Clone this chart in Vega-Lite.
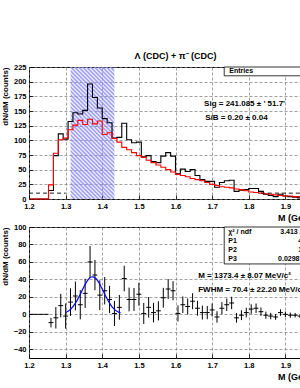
{
  "$schema": "https://vega.github.io/schema/vega-lite/v6.json",
  "padding": {"left": 0, "top": 51, "right": 0, "bottom": 0},
  "bounds": "flush",
  "spacing": 28,
  "config": {
    "view": {"stroke": "#000", "strokeWidth": 1},
    "font": "Liberation Sans",
    "axis": {
      "domain": false, "labelFont": "Liberation Sans", "labelFontWeight": "bold", "labelFontSize": 7.5, "labelColor": "#000",
      "titleFont": "Liberation Sans", "titleFontWeight": "bold", "titleFontSize": 8, "titleColor": "#000",
      "tickSize": -4, "tickColor": "#000", "tickWidth": 0.8, "labelPadding": 7,
      "grid": true, "gridColor": "#777777", "gridOpacity": 1, "gridDash": [3, 2], "gridWidth": 0.7, "titleAnchor": "end",
      "labelFlush": false, "labelOverlap": false
    },
    "axisX": {"titlePadding": 4, "titleFontSize": 9},
    "axisY": {"titlePadding": 4, "titleFontSize": 8}
  },
  "datasets": {
    "hist": [
      {"lo":1.2,"hi":1.2133,"m":1.2067,"bkg":0,"tot":0,"sig":0,"err":0},
      {"lo":1.2133,"hi":1.2267,"m":1.22,"bkg":0,"tot":0,"sig":0,"err":0},
      {"lo":1.2267,"hi":1.24,"m":1.2333,"bkg":0,"tot":0,"sig":0,"err":0},
      {"lo":1.24,"hi":1.2533,"m":1.2467,"bkg":0,"tot":0,"sig":0,"err":0},
      {"lo":1.2533,"hi":1.2667,"m":1.26,"bkg":24,"tot":14.5,"sig":-9.5,"err":5.5},
      {"lo":1.2667,"hi":1.28,"m":1.2733,"bkg":78,"tot":74,"sig":-4,"err":12.3},
      {"lo":1.28,"hi":1.2933,"m":1.2867,"bkg":101,"tot":111,"sig":10,"err":13.5},
      {"lo":1.2933,"hi":1.3067,"m":1.3,"bkg":104,"tot":102,"sig":-2,"err":14.4},
      {"lo":1.3067,"hi":1.32,"m":1.3133,"bkg":118,"tot":132,"sig":14,"err":15.8},
      {"lo":1.32,"hi":1.3333,"m":1.3267,"bkg":126,"tot":147,"sig":21,"err":16.5},
      {"lo":1.3333,"hi":1.3467,"m":1.34,"bkg":134,"tot":145,"sig":11,"err":16.7},
      {"lo":1.3467,"hi":1.36,"m":1.3533,"bkg":127,"tot":151,"sig":24,"err":16.7},
      {"lo":1.36,"hi":1.3733,"m":1.3667,"bkg":136,"tot":196,"sig":60,"err":18.2},
      {"lo":1.3733,"hi":1.3867,"m":1.38,"bkg":128,"tot":173,"sig":45,"err":17.3},
      {"lo":1.3867,"hi":1.4,"m":1.3933,"bkg":133,"tot":155,"sig":22,"err":17},
      {"lo":1.4,"hi":1.4133,"m":1.4067,"bkg":110,"tot":137,"sig":27,"err":15.7},
      {"lo":1.4133,"hi":1.4267,"m":1.42,"bkg":113,"tot":130,"sig":17,"err":15.6},
      {"lo":1.4267,"hi":1.44,"m":1.4333,"bkg":103,"tot":104,"sig":1,"err":14.4},
      {"lo":1.44,"hi":1.4533,"m":1.4467,"bkg":97,"tot":105,"sig":8,"err":14.2},
      {"lo":1.4533,"hi":1.4667,"m":1.46,"bkg":88,"tot":129,"sig":41,"err":14.7},
      {"lo":1.4667,"hi":1.48,"m":1.4733,"bkg":84,"tot":101,"sig":17,"err":13.6},
      {"lo":1.48,"hi":1.4933,"m":1.4867,"bkg":79,"tot":96,"sig":17,"err":13.2},
      {"lo":1.4933,"hi":1.5067,"m":1.5,"bkg":74,"tot":97,"sig":23,"err":13.1},
      {"lo":1.5067,"hi":1.52,"m":1.5133,"bkg":71,"tot":72,"sig":1,"err":12},
      {"lo":1.52,"hi":1.5333,"m":1.5267,"bkg":66,"tot":74,"sig":8,"err":11.8},
      {"lo":1.5333,"hi":1.5467,"m":1.54,"bkg":62,"tot":64,"sig":2,"err":11.2},
      {"lo":1.5467,"hi":1.56,"m":1.5533,"bkg":58,"tot":62,"sig":4,"err":11},
      {"lo":1.56,"hi":1.5733,"m":1.5667,"bkg":54,"tot":73,"sig":19,"err":11.3},
      {"lo":1.5733,"hi":1.5867,"m":1.58,"bkg":50,"tot":79,"sig":29,"err":11.4},
      {"lo":1.5867,"hi":1.6,"m":1.5933,"bkg":46,"tot":73,"sig":27,"err":10.9},
      {"lo":1.6,"hi":1.6133,"m":1.6067,"bkg":42,"tot":43,"sig":1,"err":9.2},
      {"lo":1.6133,"hi":1.6267,"m":1.62,"bkg":40,"tot":51,"sig":11,"err":9.5},
      {"lo":1.6267,"hi":1.64,"m":1.6333,"bkg":38,"tot":47,"sig":9,"err":9.2},
      {"lo":1.64,"hi":1.6533,"m":1.6467,"bkg":35,"tot":50,"sig":15,"err":9.2},
      {"lo":1.6533,"hi":1.6667,"m":1.66,"bkg":33,"tot":40,"sig":7,"err":8.5},
      {"lo":1.6667,"hi":1.68,"m":1.6733,"bkg":31,"tot":33,"sig":2,"err":8},
      {"lo":1.68,"hi":1.6933,"m":1.6867,"bkg":28,"tot":30,"sig":2,"err":7.6},
      {"lo":1.6933,"hi":1.7067,"m":1.7,"bkg":25,"tot":30,"sig":5,"err":7.4},
      {"lo":1.7067,"hi":1.72,"m":1.7133,"bkg":23,"tot":20,"sig":-3,"err":6.6},
      {"lo":1.72,"hi":1.7333,"m":1.7267,"bkg":21,"tot":28,"sig":7,"err":7},
      {"lo":1.7333,"hi":1.7467,"m":1.74,"bkg":20,"tot":31,"sig":11,"err":7.1},
      {"lo":1.7467,"hi":1.76,"m":1.7533,"bkg":19,"tot":32,"sig":13,"err":7.1},
      {"lo":1.76,"hi":1.7733,"m":1.7667,"bkg":17,"tot":13,"sig":-4,"err":5.5},
      {"lo":1.7733,"hi":1.7867,"m":1.78,"bkg":16,"tot":15,"sig":-1,"err":5.6},
      {"lo":1.7867,"hi":1.8,"m":1.7933,"bkg":14,"tot":16,"sig":2,"err":5.5},
      {"lo":1.8,"hi":1.8133,"m":1.8067,"bkg":12,"tot":18,"sig":6,"err":5.5},
      {"lo":1.8133,"hi":1.8267,"m":1.82,"bkg":11,"tot":18,"sig":7,"err":5.4},
      {"lo":1.8267,"hi":1.84,"m":1.8333,"bkg":10,"tot":13,"sig":3,"err":4.8},
      {"lo":1.84,"hi":1.8533,"m":1.8467,"bkg":9,"tot":8,"sig":-1,"err":4.1},
      {"lo":1.8533,"hi":1.8667,"m":1.86,"bkg":8,"tot":6,"sig":-2,"err":3.7},
      {"lo":1.8667,"hi":1.88,"m":1.8733,"bkg":7,"tot":4,"sig":-3,"err":3.3},
      {"lo":1.88,"hi":1.8933,"m":1.8867,"bkg":6,"tot":8,"sig":2,"err":3.7},
      {"lo":1.8933,"hi":1.9067,"m":1.9,"bkg":5,"tot":5,"sig":0,"err":3.2},
      {"lo":1.9067,"hi":1.92,"m":1.9133,"bkg":5,"tot":4,"sig":-1,"err":3},
      {"lo":1.92,"hi":1.9333,"m":1.9267,"bkg":4,"tot":3,"sig":-1,"err":2.6},
      {"lo":1.9333,"hi":1.9467,"m":1.94,"bkg":4,"tot":2,"sig":-2,"err":2.4},
      {"lo":1.9467,"hi":1.96,"m":1.9533,"bkg":3,"tot":4,"sig":1,"err":2.6},
      {"lo":1.96,"hi":1.9733,"m":1.9667,"bkg":3,"tot":3,"sig":0,"err":2.4},
      {"lo":1.9733,"hi":1.9867,"m":1.98,"bkg":3,"tot":2,"sig":-1,"err":2.2},
      {"lo":1.9867,"hi":2.0,"m":1.9933,"bkg":2,"tot":3,"sig":1,"err":2.2}
    ],
    "gauss": [
      {"m":1.3,"f":2.11},{"m":1.305,"f":3.14},{"m":1.31,"f":4.54},{"m":1.315,"f":6.38},{"m":1.32,"f":8.72},
      {"m":1.325,"f":11.6},{"m":1.33,"f":14.99},{"m":1.335,"f":18.84},{"m":1.34,"f":23.03},{"m":1.345,"f":27.39},
      {"m":1.35,"f":31.66},{"m":1.355,"f":35.58},{"m":1.36,"f":38.89},{"m":1.365,"f":41.34},{"m":1.37,"f":42.72},
      {"m":1.375,"f":42.94},{"m":1.38,"f":41.96},{"m":1.385,"f":39.88},{"m":1.39,"f":36.86},{"m":1.395,"f":33.12},
      {"m":1.4,"f":28.95},{"m":1.405,"f":24.6},{"m":1.41,"f":20.33},{"m":1.415,"f":16.33},{"m":1.42,"f":12.76},
      {"m":1.425,"f":9.7},{"m":1.43,"f":7.17},{"m":1.435,"f":5.15},{"m":1.44,"f":3.6},{"m":1.445,"f":2.45},{"m":1.45,"f":1.61}
    ],
    "band": [{"a": 1.3136, "b": 1.4332}],
    "side": [{"a": 1.2, "b": 1.3, "y": 10}, {"a": 1.833, "b": 2.0, "y": 10}],
    "topText": [
      {"m": 1.678, "y": 162, "t": "Sig = 241.085 ± ' 51.7'"},
      {"m": 1.681, "y": 138, "t": "S/B = 0.20 ± 0.04"}
    ],
    "topBox": [{"a": 1.733, "b": 2.0, "y0": 210, "y1": 225}],
    "topBoxText": [{"m": 1.747, "y": 217.5, "t": "Entries"}],
    "botBox": [{"a": 1.733, "b": 2.0, "y0": 57.7, "y1": 100}],
    "botBoxText": [
      {"m": 1.744, "y": 94.3, "t": "χ² / ndf"},
      {"m": 1.886, "y": 94.3, "t": "3.413 / 5"},
      {"m": 1.744, "y": 84, "t": "P1"},
      {"m": 1.935, "y": 84, "t": "42.93 ± 12.9"},
      {"m": 1.744, "y": 73.7, "t": "P2"},
      {"m": 1.935, "y": 73.7, "t": "1.373 ± 0.008"},
      {"m": 1.744, "y": 63.4, "t": "P3"},
      {"m": 1.88, "y": 63.4, "t": "0.02987 ± 0.0094"}
    ],
    "botText": [
      {"m": 1.662, "y": 43.4, "t": "M = 1373.4 ± 8.07 MeV/c²"},
      {"m": 1.662, "y": 27.4, "t": "FWHM =   70.4 ± 22.20 MeV/c²"}
    ]
  },
  "vconcat": [
    {
      "width": 293,
      "height": 132,
      "title": {"text": "Λ (CDC) + π⁻ (CDC)", "font": "Liberation Sans", "fontSize": 9, "fontWeight": "bold", "anchor": "middle", "offset": 2, "color": "#000"},
      "layer": [
        {
          "data": {"name": "band"},
          "mark": {"type": "rect", "color": {"gradient": "linear", "x1": 0, "y1": 1, "x2": 0.4, "y2": -0.2, "stops": [
            {"offset":0,"color":"#8a8af6"},{"offset":0.0114,"color":"rgba(138,138,246,0)"},
            {"offset":0.0227,"color":"#8a8af6"},{"offset":0.0341,"color":"rgba(138,138,246,0)"},
            {"offset":0.0455,"color":"#8a8af6"},{"offset":0.0568,"color":"rgba(138,138,246,0)"},
            {"offset":0.0682,"color":"#8a8af6"},{"offset":0.0795,"color":"rgba(138,138,246,0)"},
            {"offset":0.0909,"color":"#8a8af6"},{"offset":0.1023,"color":"rgba(138,138,246,0)"},
            {"offset":0.1136,"color":"#8a8af6"},{"offset":0.125,"color":"rgba(138,138,246,0)"},
            {"offset":0.1364,"color":"#8a8af6"},{"offset":0.1477,"color":"rgba(138,138,246,0)"},
            {"offset":0.1591,"color":"#8a8af6"},{"offset":0.1705,"color":"rgba(138,138,246,0)"},
            {"offset":0.1818,"color":"#8a8af6"},{"offset":0.1932,"color":"rgba(138,138,246,0)"},
            {"offset":0.2045,"color":"#8a8af6"},{"offset":0.2159,"color":"rgba(138,138,246,0)"},
            {"offset":0.2273,"color":"#8a8af6"},{"offset":0.2386,"color":"rgba(138,138,246,0)"},
            {"offset":0.25,"color":"#8a8af6"},{"offset":0.2614,"color":"rgba(138,138,246,0)"},
            {"offset":0.2727,"color":"#8a8af6"},{"offset":0.2841,"color":"rgba(138,138,246,0)"},
            {"offset":0.2955,"color":"#8a8af6"},{"offset":0.3068,"color":"rgba(138,138,246,0)"},
            {"offset":0.3182,"color":"#8a8af6"},{"offset":0.3295,"color":"rgba(138,138,246,0)"},
            {"offset":0.3409,"color":"#8a8af6"},{"offset":0.3523,"color":"rgba(138,138,246,0)"},
            {"offset":0.3636,"color":"#8a8af6"},{"offset":0.375,"color":"rgba(138,138,246,0)"},
            {"offset":0.3864,"color":"#8a8af6"},{"offset":0.3977,"color":"rgba(138,138,246,0)"},
            {"offset":0.4091,"color":"#8a8af6"},{"offset":0.4205,"color":"rgba(138,138,246,0)"},
            {"offset":0.4318,"color":"#8a8af6"},{"offset":0.4432,"color":"rgba(138,138,246,0)"},
            {"offset":0.4545,"color":"#8a8af6"},{"offset":0.4659,"color":"rgba(138,138,246,0)"},
            {"offset":0.4773,"color":"#8a8af6"},{"offset":0.4886,"color":"rgba(138,138,246,0)"},
            {"offset":0.5,"color":"#8a8af6"},{"offset":0.5114,"color":"rgba(138,138,246,0)"},
            {"offset":0.5227,"color":"#8a8af6"},{"offset":0.5341,"color":"rgba(138,138,246,0)"},
            {"offset":0.5455,"color":"#8a8af6"},{"offset":0.5568,"color":"rgba(138,138,246,0)"},
            {"offset":0.5682,"color":"#8a8af6"},{"offset":0.5795,"color":"rgba(138,138,246,0)"},
            {"offset":0.5909,"color":"#8a8af6"},{"offset":0.6023,"color":"rgba(138,138,246,0)"},
            {"offset":0.6136,"color":"#8a8af6"},{"offset":0.625,"color":"rgba(138,138,246,0)"},
            {"offset":0.6364,"color":"#8a8af6"},{"offset":0.6477,"color":"rgba(138,138,246,0)"},
            {"offset":0.6591,"color":"#8a8af6"},{"offset":0.6705,"color":"rgba(138,138,246,0)"},
            {"offset":0.6818,"color":"#8a8af6"},{"offset":0.6932,"color":"rgba(138,138,246,0)"},
            {"offset":0.7045,"color":"#8a8af6"},{"offset":0.7159,"color":"rgba(138,138,246,0)"},
            {"offset":0.7273,"color":"#8a8af6"},{"offset":0.7386,"color":"rgba(138,138,246,0)"},
            {"offset":0.75,"color":"#8a8af6"},{"offset":0.7614,"color":"rgba(138,138,246,0)"},
            {"offset":0.7727,"color":"#8a8af6"},{"offset":0.7841,"color":"rgba(138,138,246,0)"},
            {"offset":0.7955,"color":"#8a8af6"},{"offset":0.8068,"color":"rgba(138,138,246,0)"},
            {"offset":0.8182,"color":"#8a8af6"},{"offset":0.8295,"color":"rgba(138,138,246,0)"},
            {"offset":0.8409,"color":"#8a8af6"},{"offset":0.8523,"color":"rgba(138,138,246,0)"},
            {"offset":0.8636,"color":"#8a8af6"},{"offset":0.875,"color":"rgba(138,138,246,0)"},
            {"offset":0.8864,"color":"#8a8af6"},{"offset":0.8977,"color":"rgba(138,138,246,0)"},
            {"offset":0.9091,"color":"#8a8af6"},{"offset":0.9205,"color":"rgba(138,138,246,0)"},
            {"offset":0.9318,"color":"#8a8af6"},{"offset":0.9432,"color":"rgba(138,138,246,0)"},
            {"offset":0.9545,"color":"#8a8af6"},{"offset":0.9659,"color":"rgba(138,138,246,0)"},
            {"offset":0.9773,"color":"#8a8af6"},{"offset":0.9886,"color":"rgba(138,138,246,0)"},
            {"offset":1,"color":"#8a8af6"}
          ]}},
          "encoding": {
            "x": {"field": "a", "type": "quantitative", "title": "M (GeV/c²)",
                  "scale": {"domain": [1.2, 2.0], "nice": false, "zero": false},
                  "axis": {"values": [1.2, 1.3, 1.4, 1.5, 1.6, 1.7, 1.8, 1.9, 2.0], "format": ".1f", "grid": true}},
            "x2": {"field": "b"},
            "y": {"datum": 0, "type": "quantitative", "title": "dN/dM (counts)",
                  "scale": {"domain": [0, 225], "nice": false, "zero": false},
                  "axis": {"values": [0, 25, 50, 75, 100, 125, 150, 175, 200, 225], "grid": true}},
            "y2": {"datum": 225}
          }
        },
        {
          "data": {"name": "hist"},
          "mark": {"type": "line", "interpolate": "step-after", "color": "#000", "strokeWidth": 1.1},
          "encoding": {
            "x": {"field": "lo", "type": "quantitative", "title": "M (GeV/c²)",
                  "axis": {"values": [1.2, 1.3, 1.4, 1.5, 1.6, 1.7, 1.8, 1.9, 2.0], "format": ".1f", "grid": true}},
            "y": {"field": "tot", "type": "quantitative", "title": "dN/dM (counts)",
                  "axis": {"values": [0, 25, 50, 75, 100, 125, 150, 175, 200, 225], "grid": true}}
          }
        },
        {
          "data": {"name": "hist"},
          "mark": {"type": "line", "interpolate": "step-after", "color": "#ff0000", "strokeWidth": 1.1},
          "encoding": {
            "x": {"field": "lo", "type": "quantitative", "title": "M (GeV/c²)",
                  "axis": {"values": [1.2, 1.3, 1.4, 1.5, 1.6, 1.7, 1.8, 1.9, 2.0], "format": ".1f", "grid": true}},
            "y": {"field": "bkg", "type": "quantitative", "title": "dN/dM (counts)",
                  "axis": {"values": [0, 25, 50, 75, 100, 125, 150, 175, 200, 225], "grid": true}}
          }
        },
        {
          "data": {"name": "side"},
          "mark": {"type": "rule", "color": "#000", "strokeWidth": 0.9, "strokeDash": [4, 3]},
          "encoding": {
            "x": {"field": "a", "type": "quantitative", "title": "M (GeV/c²)",
                  "axis": {"values": [1.2, 1.3, 1.4, 1.5, 1.6, 1.7, 1.8, 1.9, 2.0], "format": ".1f", "grid": true}},
            "x2": {"field": "b"},
            "y": {"field": "y", "type": "quantitative", "title": "dN/dM (counts)",
                  "axis": {"values": [0, 25, 50, 75, 100, 125, 150, 175, 200, 225], "grid": true}}
          }
        },
        {
          "data": {"name": "topBox"},
          "mark": {"type": "rect", "fill": "#fff", "stroke": "#000", "strokeWidth": 0.8},
          "encoding": {
            "x": {"field": "a", "type": "quantitative", "title": "M (GeV/c²)",
                  "axis": {"values": [1.2, 1.3, 1.4, 1.5, 1.6, 1.7, 1.8, 1.9, 2.0], "format": ".1f", "grid": true}},
            "x2": {"field": "b"},
            "y": {"field": "y0", "type": "quantitative", "title": "dN/dM (counts)",
                  "axis": {"values": [0, 25, 50, 75, 100, 125, 150, 175, 200, 225], "grid": true}},
            "y2": {"field": "y1"}
          }
        },
        {
          "data": {"name": "topBoxText"},
          "mark": {"type": "text", "align": "left", "baseline": "middle", "font": "Liberation Sans", "fontSize": 7, "fontWeight": "bold", "color": "#000"},
          "encoding": {
            "x": {"field": "m", "type": "quantitative", "title": "M (GeV/c²)",
                  "axis": {"values": [1.2, 1.3, 1.4, 1.5, 1.6, 1.7, 1.8, 1.9, 2.0], "format": ".1f", "grid": true}},
            "y": {"field": "y", "type": "quantitative", "title": "dN/dM (counts)",
                  "axis": {"values": [0, 25, 50, 75, 100, 125, 150, 175, 200, 225], "grid": true}},
            "text": {"field": "t"}
          }
        },
        {
          "data": {"name": "topText"},
          "mark": {"type": "text", "align": "left", "baseline": "middle", "font": "Liberation Sans", "fontSize": 8, "fontWeight": "bold", "color": "#000"},
          "encoding": {
            "x": {"field": "m", "type": "quantitative", "title": "M (GeV/c²)",
                  "axis": {"values": [1.2, 1.3, 1.4, 1.5, 1.6, 1.7, 1.8, 1.9, 2.0], "format": ".1f", "grid": true}},
            "y": {"field": "y", "type": "quantitative", "title": "dN/dM (counts)",
                  "axis": {"values": [0, 25, 50, 75, 100, 125, 150, 175, 200, 225], "grid": true}},
            "text": {"field": "t"}
          }
        }
      ]
    },
    {
      "width": 293,
      "height": 131,
      "layer": [
        {
          "data": {"name": "hist"},
          "mark": {"type": "rule", "color": "#000", "strokeWidth": 1},
          "encoding": {
            "x": {"field": "lo", "type": "quantitative", "title": "M (GeV/c²)",
                  "scale": {"domain": [1.2, 2.0], "nice": false, "zero": false},
                  "axis": {"values": [1.2, 1.3, 1.4, 1.5, 1.6, 1.7, 1.8, 1.9, 2.0], "format": ".1f", "grid": true}},
            "x2": {"field": "hi"},
            "y": {"field": "sig", "type": "quantitative", "title": "dN/dM (counts)",
                  "scale": {"domain": [-50, 100], "nice": false, "zero": false},
                  "axis": {"values": [-40, -20, 0, 20, 40, 60, 80, 100], "grid": true}}
          }
        },
        {
          "data": {"name": "hist"},
          "mark": {"type": "errorbar", "color": "#000", "thickness": 1},
          "encoding": {
            "x": {"field": "m", "type": "quantitative", "title": "M (GeV/c²)",
                  "axis": {"values": [1.2, 1.3, 1.4, 1.5, 1.6, 1.7, 1.8, 1.9, 2.0], "format": ".1f", "grid": true}},
            "y": {"field": "sig", "type": "quantitative", "title": "dN/dM (counts)",
                  "axis": {"values": [-40, -20, 0, 20, 40, 60, 80, 100], "grid": true}},
            "yError": {"field": "err"}
          }
        },
        {
          "data": {"name": "gauss"},
          "mark": {"type": "line", "color": "#0000ff", "strokeWidth": 1.2, "interpolate": "monotone"},
          "encoding": {
            "x": {"field": "m", "type": "quantitative", "title": "M (GeV/c²)",
                  "axis": {"values": [1.2, 1.3, 1.4, 1.5, 1.6, 1.7, 1.8, 1.9, 2.0], "format": ".1f", "grid": true}},
            "y": {"field": "f", "type": "quantitative", "title": "dN/dM (counts)",
                  "axis": {"values": [-40, -20, 0, 20, 40, 60, 80, 100], "grid": true}}
          }
        },
        {
          "data": {"name": "botBox"},
          "mark": {"type": "rect", "fill": "#fff", "stroke": "#000", "strokeWidth": 0.8},
          "encoding": {
            "x": {"field": "a", "type": "quantitative", "title": "M (GeV/c²)",
                  "axis": {"values": [1.2, 1.3, 1.4, 1.5, 1.6, 1.7, 1.8, 1.9, 2.0], "format": ".1f", "grid": true}},
            "x2": {"field": "b"},
            "y": {"field": "y0", "type": "quantitative", "title": "dN/dM (counts)",
                  "axis": {"values": [-40, -20, 0, 20, 40, 60, 80, 100], "grid": true}},
            "y2": {"field": "y1"}
          }
        },
        {
          "data": {"name": "botBoxText"},
          "mark": {"type": "text", "align": "left", "baseline": "middle", "font": "Liberation Sans", "fontSize": 7, "fontWeight": "bold", "color": "#000"},
          "encoding": {
            "x": {"field": "m", "type": "quantitative", "title": "M (GeV/c²)",
                  "axis": {"values": [1.2, 1.3, 1.4, 1.5, 1.6, 1.7, 1.8, 1.9, 2.0], "format": ".1f", "grid": true}},
            "y": {"field": "y", "type": "quantitative", "title": "dN/dM (counts)",
                  "axis": {"values": [-40, -20, 0, 20, 40, 60, 80, 100], "grid": true}},
            "text": {"field": "t"}
          }
        },
        {
          "data": {"name": "botText"},
          "mark": {"type": "text", "align": "left", "baseline": "middle", "font": "Liberation Sans", "fontSize": 8, "fontWeight": "bold", "color": "#000"},
          "encoding": {
            "x": {"field": "m", "type": "quantitative", "title": "M (GeV/c²)",
                  "axis": {"values": [1.2, 1.3, 1.4, 1.5, 1.6, 1.7, 1.8, 1.9, 2.0], "format": ".1f", "grid": true}},
            "y": {"field": "y", "type": "quantitative", "title": "dN/dM (counts)",
                  "axis": {"values": [-40, -20, 0, 20, 40, 60, 80, 100], "grid": true}},
            "text": {"field": "t"}
          }
        }
      ]
    }
  ]
}
